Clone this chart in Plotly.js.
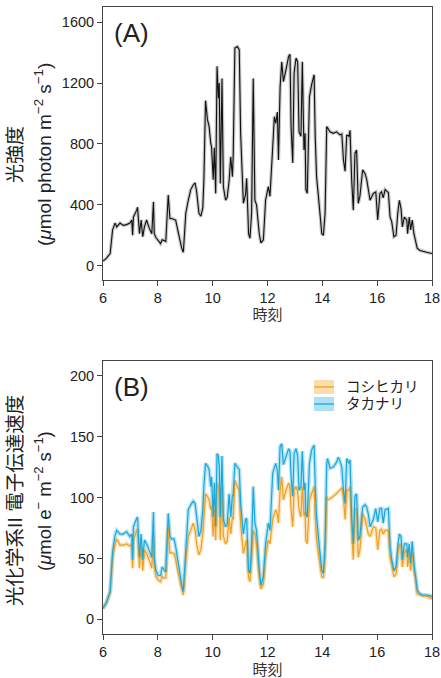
<!DOCTYPE html>
<html><head><meta charset="utf-8">
<script src="https://cdn.plot.ly/plotly-3.0.1.min.js"></script>
<style>html,body{margin:0;padding:0;background:#fff;}#chart{width:441px;height:678px;}</style>
</head><body><div id="chart"></div>
<script>
// time of day (h)
const TIME = [
6.00,6.13,6.26,6.35,6.44,6.50,6.62,6.74,6.86,6.98,
7.05,7.08,7.11,7.17,7.23,7.26,7.33,7.39,7.45,7.51,
7.59,7.68,7.74,7.78,7.84,7.87,7.93,8.02,8.10,8.16,
8.22,8.29,8.38,8.44,8.50,8.59,8.65,8.72,8.81,8.87,
8.93,9.02,9.11,9.20,9.29,9.36,9.42,9.50,9.57,9.64,
9.68,9.74,9.81,9.87,9.93,9.96,10.02,10.06,10.11,10.16,
10.21,10.24,10.28,10.34,10.39,10.47,10.53,10.60,10.66,10.72,
10.75,10.81,10.90,10.97,11.02,11.12,11.20,11.24,11.31,11.36,
11.42,11.48,11.54,11.60,11.70,11.76,11.85,11.93,12.03,12.09,
12.19,12.25,12.30,12.36,12.40,12.46,12.52,12.58,12.67,12.77,
12.82,12.86,12.92,12.97,13.04,13.10,13.15,13.22,13.27,13.33,
13.37,13.40,13.45,13.53,13.61,13.70,13.74,13.79,13.89,13.98,
14.04,14.10,14.16,14.19,14.28,14.40,14.52,14.58,14.64,14.71,
14.77,14.83,14.89,14.97,15.01,15.07,15.13,15.19,15.25,15.31,
15.37,15.47,15.56,15.62,15.68,15.74,15.86,15.95,16.02,16.10,
16.16,16.22,16.29,16.41,16.47,16.53,16.61,16.69,16.75,16.81,
16.87,16.92,16.99,17.08,17.11,17.17,17.22,17.28,17.34,17.40,
17.46,17.56,17.68,17.81,18.00];

// light intensity (µmol photon m-2 s-1)
const LIGHT = [
30,50,80,235,280,255,280,265,270,280,
300,200,320,340,365,384,210,300,190,255,
300,250,220,210,420,210,185,160,145,170,
165,160,465,310,310,305,300,240,160,115,
88,345,430,500,530,545,480,345,325,380,
565,1085,960,915,805,780,565,775,475,1310,
1100,1200,540,1230,520,430,450,560,715,585,
730,1430,1440,1420,870,410,470,575,210,180,
345,1230,430,400,210,150,170,430,520,455,
780,980,935,1010,695,1175,1340,1210,1285,1375,
1390,915,675,1265,1365,1340,880,850,1340,760,
870,500,475,1110,1190,1255,850,585,390,210,
200,345,915,905,880,870,880,870,860,865,
695,620,860,850,890,565,365,740,760,410,
455,630,605,565,500,430,475,485,300,475,
485,445,500,480,320,290,190,200,345,430,
375,255,320,300,210,320,235,300,210,170,
115,100,92,88,80];

// PSII electron transport rate – Koshihikari
const KOSHI = [
9,14,22,50,62,66,61,61,62,60,
62,42,65,70,73,74,42,60,40,57,
54,49,45,42,70,43,35,32,31,35,
34,34,76,54,55,54,49,40,32,25,
20,49,68,73,79,73,61,53,57,70,
84,103,101,98,90,93,68,90,65,112,
108,101,65,109,68,62,64,84,70,84,
82,114,109,106,79,54,62,65,34,31,
49,73,70,62,35,25,29,51,65,62,
82,86,90,86,79,106,117,98,106,112,
108,90,76,106,109,105,90,84,109,85,
88,65,62,98,103,109,84,65,49,35,
34,51,101,98,99,101,103,105,106,108,
100,82,106,106,109,73,49,90,90,51,
57,87,82,76,70,68,76,75,57,73,
74,70,73,73,51,45,35,37,54,62,
60,43,55,57,43,55,40,55,40,34,
21,20,19,19,17];

// PSII electron transport rate – Takanari
const TAKA = [
9,14,23,55,69,73,70,70,72,68,
70,49,76,80,83,84,51,70,49,65,
62,57,53,51,88,50,40,36,36,43,
41,39,87,68,66,66,60,49,36,28,
23,57,90,94,97,95,82,68,73,90,
109,128,126,123,109,117,84,112,76,136,
134,125,84,134,82,76,78,103,84,102,
101,128,125,123,95,70,82,83,40,38,
60,109,79,73,40,28,35,62,79,73,
120,125,128,122,106,142,144,127,134,140,
138,117,101,136,140,134,106,109,138,106,
112,87,84,128,139,143,109,84,60,40,
38,62,128,132,124,125,129,133,130,125,
106,95,132,128,131,84,62,101,103,65,
68,92,94,92,86,76,82,91,80,91,
91,79,90,91,60,49,40,43,60,70,
68,49,62,62,51,62,46,64,46,35,
24,21,20,20,19];

const SERIES_NAMES = ['コシヒカリ','タカナリ'];
const X_TICKS = [6,8,10,12,14,16,18];
const YA_TICKS = [0,400,800,1200,1600];
const YB_TICKS = [0,50,100,150,200];
const X_TITLE = '時刻';
const YA_TITLE = ['光強度','(<i>μ</i>mol photon m<sup>−2</sup> s<sup>−1</sup>)'];
const YB_TITLE = ['光化学系II 電子伝達速度','(<i>μ</i>mol e<sup>−</sup> m<sup>−2</sup> s<sup>−1</sup>)'];
const PANEL_LABELS = ['(A)','(B)'];

const ORANGE = '#F0A022', ORANGE_FILL = 'rgba(244,170,50,0.35)';
const BLUE = '#1AA8DC', BLUE_FILL = 'rgba(40,175,225,0.35)';
const FONT = 'Liberation Sans, Arial, Noto Sans CJK JP, sans-serif';
const TXT = '#222';

// pixel->paper helpers (plot area: x 103..432, y 7..634)
const L=103, R=9, T=7, B=44, W=441, H=678;
const PW = W-L-R, PH = H-T-B;
const px = v => (v-L)/PW;
const py = v => (H-B-v)/PH;

const traces = [
  {x:TIME, y:LIGHT, xaxis:'x', yaxis:'y', mode:'lines', line:{color:'rgba(0,0,0,0.22)', width:3.5}, showlegend:false, hoverinfo:'skip'},
  {x:TIME, y:LIGHT, xaxis:'x', yaxis:'y', mode:'lines', line:{color:'#111', width:1.1}, showlegend:false},
  {x:TIME, y:KOSHI, xaxis:'x2', yaxis:'y2', mode:'lines', line:{color:ORANGE_FILL, width:4}, showlegend:false, hoverinfo:'skip'},
  {x:TIME, y:TAKA, xaxis:'x2', yaxis:'y2', mode:'lines', line:{color:BLUE_FILL, width:4}, showlegend:false, hoverinfo:'skip'},
  {x:TIME, y:KOSHI, xaxis:'x2', yaxis:'y2', mode:'lines', name:SERIES_NAMES[0], line:{color:ORANGE, width:1.2}, showlegend:false},
  {x:TIME, y:TAKA, xaxis:'x2', yaxis:'y2', mode:'lines', name:SERIES_NAMES[1], line:{color:BLUE, width:1.2}, showlegend:false}
];

const axisCommon = {
  showline:true, mirror:true, linecolor:'#444', linewidth:1,
  ticks:'outside', ticklen:5, tickcolor:'#444', tickwidth:1,
  showgrid:false, zeroline:false,
  tickfont:{family:FONT, size:14.5, color:TXT}
};

const yTitleAnn = (lines, yc, s1, s2) => [
  {text:lines[0], xref:'paper', yref:'paper', x:px(15), y:py(yc), textangle:-90, showarrow:false, xanchor:'center', yanchor:'middle', font:{family:FONT, size:s1, color:TXT}},
  {text:lines[1], xref:'paper', yref:'paper', x:px(43), y:py(yc), textangle:-90, showarrow:false, xanchor:'center', yanchor:'middle', font:{family:FONT, size:s2, color:TXT}}
];

const annotations = [
  ...yTitleAnn(YA_TITLE, 155, 19, 19),
  ...yTitleAnn(YB_TITLE, 501, 19.5, 18.5),
  {text:PANEL_LABELS[0], xref:'paper', yref:'paper', x:px(112), y:py(33), xanchor:'left', yanchor:'middle', showarrow:false, font:{family:FONT, size:26, color:TXT}},
  {text:PANEL_LABELS[1], xref:'paper', yref:'paper', x:px(112), y:py(387), xanchor:'left', yanchor:'middle', showarrow:false, font:{family:FONT, size:26, color:TXT}},
  {text:SERIES_NAMES[0], xref:'paper', yref:'paper', x:px(344), y:py(387), xanchor:'left', yanchor:'middle', showarrow:false, font:{family:FONT, size:14.5, color:TXT}},
  {text:SERIES_NAMES[1], xref:'paper', yref:'paper', x:px(344), y:py(404), xanchor:'left', yanchor:'middle', showarrow:false, font:{family:FONT, size:14.5, color:TXT}}
];

const shapes = [
  {type:'rect', xref:'paper', yref:'paper', x0:px(314), x1:px(334), y0:py(394), y1:py(380), fillcolor:'rgba(248,200,120,0.6)', line:{width:0}},
  {type:'line', xref:'paper', yref:'paper', x0:px(314), x1:px(334), y0:py(387), y1:py(387), line:{color:ORANGE, width:1.3}},
  {type:'rect', xref:'paper', yref:'paper', x0:px(314), x1:px(334), y0:py(411), y1:py(397), fillcolor:'rgba(110,200,236,0.55)', line:{width:0}},
  {type:'line', xref:'paper', yref:'paper', x0:px(314), x1:px(334), y0:py(404), y1:py(404), line:{color:BLUE, width:1.3}}
];

const layout = {
  width:W, height:H,
  margin:{l:L, r:R, t:T, b:B},
  paper_bgcolor:'#fff', plot_bgcolor:'#fff',
  showlegend:false,
  xaxis:Object.assign({}, axisCommon, {domain:[0,1], anchor:'y', range:[6,18], tickvals:X_TICKS,
    title:{text:X_TITLE, standoff:4, font:{family:FONT, size:15, color:'#333'}}}),
  yaxis:Object.assign({}, axisCommon, {domain:[py(280),1], anchor:'x', range:[-94,1700], tickvals:YA_TICKS}),
  xaxis2:Object.assign({}, axisCommon, {domain:[0,1], anchor:'y2', range:[6,18], tickvals:X_TICKS,
    title:{text:X_TITLE, standoff:6, font:{family:FONT, size:15, color:'#333'}}}),
  yaxis2:Object.assign({}, axisCommon, {domain:[0,py(361)], anchor:'x2', range:[-12,212], tickvals:YB_TICKS}),
  annotations:annotations,
  shapes:shapes
};

Plotly.newPlot('chart', traces, layout, {staticPlot:true, displayModeBar:false});
</script>
</body></html>
